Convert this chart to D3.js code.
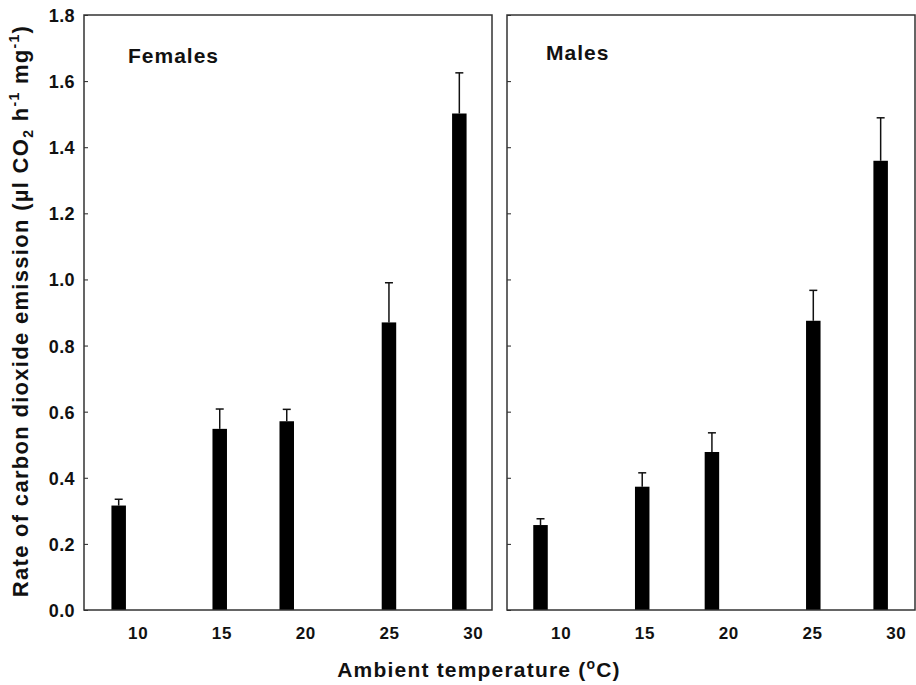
<!DOCTYPE html>
<html lang="en">
<head>
<meta charset="UTF-8">
<title>CO2 emission</title>
<script src="https://d3js.org/d3.v7.min.js"></script>
<style>
    body { margin: 0; background: #fff; }
    text { font-family: 'Liberation Sans', Arial, sans-serif; font-weight: bold; fill: #111; }
</style>
</head>
<body>
<div id="chart"></div>
<script>
// values
const xTicks = [10, 15, 20, 25, 30];
const yTicks = [0, 0.2, 0.4, 0.6, 0.8, 1.0, 1.2, 1.4, 1.6, 1.8];

const femaleTemps = [8.87, 14.9, 18.9, 25.0, 29.2];
const femaleMeans = [0.316, 0.548, 0.571, 0.870, 1.502];
const femaleErrTop = [0.335, 0.608, 0.607, 0.990, 1.625];

const maleTemps = [8.8, 14.87, 19.03, 25.08, 29.1];
const maleMeans = [0.257, 0.373, 0.478, 0.875, 1.359];
const maleErrTop = [0.276, 0.415, 0.536, 0.967, 1.489];

const panels = [
    {name: 'Females', temps: femaleTemps, means: femaleMeans, err: femaleErrTop, left: 84, labels: true, ty: 63},
    {name: 'Males', temps: maleTemps, means: maleMeans, err: maleErrTop, left: 507, labels: false, ty: 60}
];

const W = 916, H = 685;
const plotTop = 15, plotBottom = 610, pw = 408;
const fontFam = "'Liberation Sans', Arial, sans-serif";

const svg = d3.select('#chart').append('svg')
    .attr('width', W).attr('height', H);

const y = d3.scaleLinear().domain([0, 1.8]).range([plotBottom, plotTop]);

panels.forEach(p => {
    const x = d3.scaleLinear().domain([6.8, 31.15]).range([p.left, p.left + pw]);
    const g = svg.append('g');

    // y axis: ticks pointing inward
    const yAxis = g.append('g')
        .attr('transform', `translate(${p.left},0)`)
        .call(d3.axisLeft(y).tickValues(yTicks).tickSize(-4)
            .tickFormat(p.labels ? d3.format('.1f') : ''));
    yAxis.select('.domain').remove();
    yAxis.selectAll('line').attr('stroke', '#222');
    yAxis.selectAll('text')
        .attr('x', -9).attr('dy', '0.36em')
        .style('font-size', '18px').style('font-family', fontFam)
        .style('letter-spacing', '0.4px')
        .style('font-weight', 'bold').attr('fill', '#111');

    // x labels only, no tick marks
    const xAxis = g.append('g')
        .attr('transform', `translate(0,${plotBottom})`)
        .call(d3.axisBottom(x).tickValues(xTicks).tickSize(0).tickPadding(17));
    xAxis.select('.domain').remove();
    xAxis.selectAll('text')
        .style('font-size', '17px').style('font-family', fontFam)
        .style('letter-spacing', '0.6px')
        .style('font-weight', 'bold').attr('fill', '#111');

    const bw = 14.5, cap = 8;
    const data = p.temps.map((t, i) => ({t: t, m: p.means[i], e: p.err[i]}));

    // error bars (upper only)
    g.selectAll('.err').data(data).enter().append('line')
        .attr('x1', d => x(d.t)).attr('x2', d => x(d.t))
        .attr('y1', d => y(d.m)).attr('y2', d => y(d.e))
        .attr('stroke', '#111').attr('stroke-width', 1.5);
    g.selectAll('.cap').data(data).enter().append('line')
        .attr('x1', d => x(d.t) - cap / 2).attr('x2', d => x(d.t) + cap / 2)
        .attr('y1', d => y(d.e)).attr('y2', d => y(d.e))
        .attr('stroke', '#111').attr('stroke-width', 1.5);

    g.selectAll('.bar').data(data).enter().append('rect')
        .attr('x', d => x(d.t) - bw / 2)
        .attr('y', d => y(d.m))
        .attr('width', bw)
        .attr('height', d => y(0) - y(d.m))
        .attr('fill', '#000');

    // frame
    g.append('rect')
        .attr('x', p.left).attr('y', plotTop)
        .attr('width', pw).attr('height', plotBottom - plotTop)
        .attr('fill', 'none').attr('stroke', '#333').attr('stroke-width', 1.5);

    g.append('text')
        .attr('x', p.left + (p.labels ? 44 : 39)).attr('y', p.ty)
        .style('font-size', '21px')
        .style('letter-spacing', '1px')
        .text(p.name);
});

// axis titles
const yl = svg.append('text')
    .attr('transform', `translate(28,311) rotate(-90)`)
    .attr('text-anchor', 'middle')
    .style('font-size', '22px')
    .style('letter-spacing', '1.3px');
yl.append('tspan').text('Rate of carbon dioxide emission (\u00b5l CO');
yl.append('tspan').attr('dy', 5).style('font-size', '14px').text('2');
yl.append('tspan').attr('dy', -5).text(' h');
yl.append('tspan').attr('dy', -9).style('font-size', '14px').text('-1');
yl.append('tspan').attr('dy', 9).text(' mg');
yl.append('tspan').attr('dy', -9).style('font-size', '14px').text('-1');
yl.append('tspan').attr('dy', 9).text(')');

const xl = svg.append('text')
    .attr('x', 479).attr('y', 677)
    .attr('text-anchor', 'middle')
    .style('font-size', '21px')
    .style('letter-spacing', '1.2px');
xl.append('tspan').text('Ambient temperature (');
xl.append('tspan').attr('dy', -8).style('font-size', '14px').text('o');
xl.append('tspan').attr('dy', 8).text('C)');
</script>
</body>
</html>
